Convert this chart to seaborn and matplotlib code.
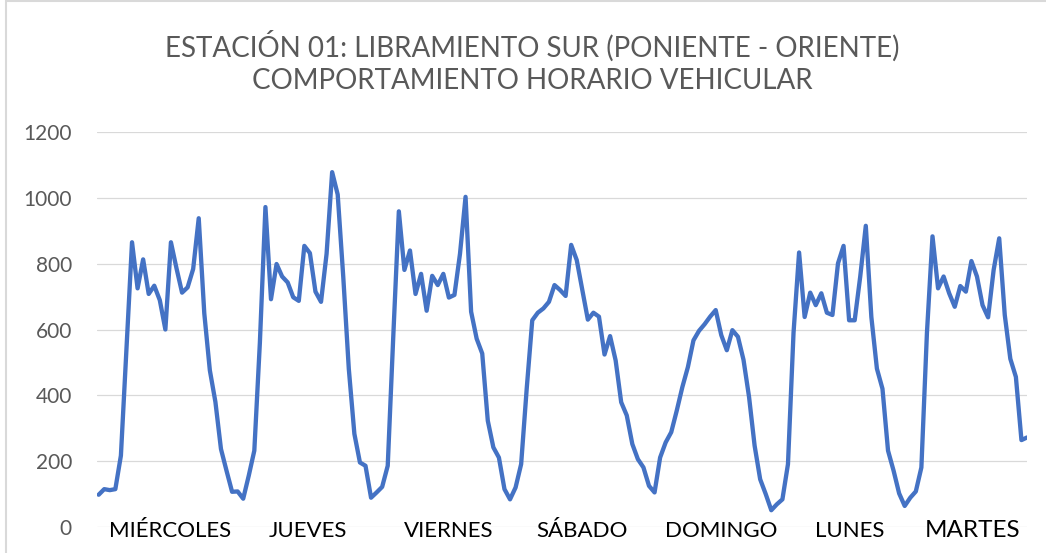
import numpy as np
import pandas as pd
import matplotlib
matplotlib.use("Agg")
import matplotlib.pyplot as plt
import seaborn as sns
from matplotlib.patches import Rectangle

# Hourly vehicle counts (24 values per day), week starting on Wednesday
dias = ["MIÉRCOLES", "JUEVES", "VIERNES", "SÁBADO", "DOMINGO", "LUNES", "MARTES"]

miercoles = [98, 115, 112, 115, 217, 540, 865, 725, 813, 708, 733, 689,
             600, 865, 786, 712, 728, 784, 938, 649, 476, 380, 237, 171]
jueves = [107, 108, 86, 156, 232, 560, 972, 692, 799, 761, 743, 698,
          687, 854, 832, 715, 684, 830, 1078, 1010, 760, 480, 283, 196]
viernes = [186, 89, 105, 122, 186, 580, 959, 781, 840, 708, 769, 657,
           763, 735, 769, 697, 705, 830, 1003, 654, 572, 527, 323, 242]
sabado = [211, 115, 84, 120, 191, 420, 628, 651, 664, 684, 735, 720,
          702, 857, 811, 720, 630, 651, 639, 524, 580, 506, 379, 339]
domingo = [252, 206, 181, 125, 105, 211, 257, 288, 354, 425, 486, 567,
           596, 616, 639, 659, 583, 537, 598, 578, 508, 395, 247, 145]
lunes = [100, 51, 69, 84, 191, 590, 834, 638, 712, 674, 710, 651,
         644, 801, 854, 628, 628, 761, 915, 638, 481, 420, 232, 171]
martes = [102, 64, 89, 108, 181, 590, 883, 725, 761, 710, 669, 732,
          715, 808, 761, 674, 637, 781, 877, 644, 511, 456, 264, 272]

y_ticks = [0, 200, 400, 600, 800, 1000, 1200]
titulo = "ESTACIÓN 01: LIBRAMIENTO SUR (PONIENTE - ORIENTE)\nCOMPORTAMIENTO HORARIO VEHICULAR"

serie = miercoles + jueves + viernes + sabado + domingo + lunes + martes
df = pd.DataFrame({"hora": np.arange(len(serie)), "vehiculos": serie})

# where each day name sits along the hourly axis
pos_dias = [12.8, 37.6, 62.9, 86.9, 111.9, 135.1, 157.2]

sns.set_theme(style="white")
plt.rcParams["font.family"] = ["Lato", "DejaVu Sans"]

W, H = 1046, 553
fig = plt.figure(figsize=(W / 100, H / 100), dpi=100)
ax = fig.add_axes([97 / W, 1 - 527 / H, (1027 - 97) / W, (527 - 132) / H])

sns.lineplot(data=df, x="hora", y="vehiculos", ax=ax, color="#4472C4",
             linewidth=3.1, solid_joinstyle="round", solid_capstyle="round",
             zorder=3)

ax.set_ylim(0, 1200)
ax.set_xlim(-0.3, len(serie) - 1)
ax.set_yticks(y_ticks)
ax.set_yticklabels([str(v) for v in y_ticks])
ax.tick_params(axis="y", length=0, pad=18, labelsize=15, labelcolor="#595959")
ax.set_xticks([])
ax.set_xlabel("")
ax.set_ylabel("")
for s in ax.spines.values():
    s.set_visible(False)
ax.yaxis.grid(True, color="#D9D9D9", linewidth=0.9)
ax.set_axisbelow(True)

for nombre, x in zip(dias, pos_dias):
    size = 17.5 if nombre == "MARTES" else 16
    ax.annotate(nombre, xy=(x, 0), xytext=(0, -7.3), textcoords="offset points",
                ha="center", va="baseline", fontsize=size, color="black",
                annotation_clip=False, zorder=4)

fig.text(532 / W, 1 - 62 / H, titulo, ha="center", va="center", fontsize=20,
         color="#595959", linespacing=1.3)

# light frame around the chart area
fig.patches.append(Rectangle((6 / W, -0.1), 1.2, (1 - 1.5 / H) + 0.1,
                             transform=fig.transFigure, fill=False,
                             edgecolor="#D9D9D9", linewidth=1.5))

fig.savefig("out.png", dpi=100, facecolor="white")
